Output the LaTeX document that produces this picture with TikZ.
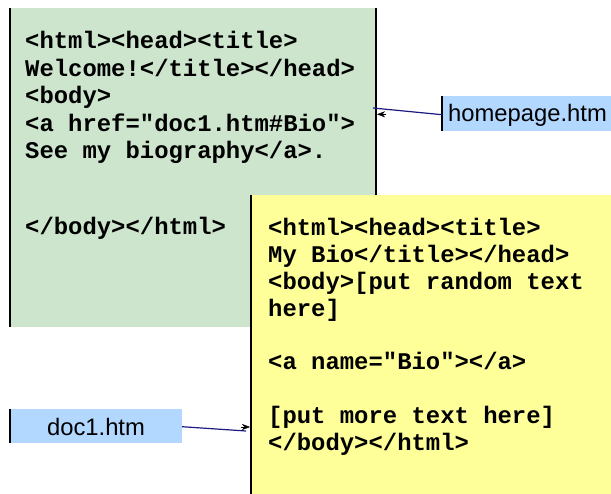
\documentclass[tikz,border=0pt]{standalone}
\usepackage{fontspec}
\setmainfont{Liberation Sans}
\setmonofont{Liberation Mono}
\usetikzlibrary{arrows.meta}
\definecolor{pagegreen}{HTML}{CCE5CC}
\definecolor{pageyellow}{HTML}{FFFF99}
\definecolor{labelblue}{HTML}{B3D8FF}
\definecolor{linknavy}{HTML}{1A1A80}
\tikzset{
  page/.style={draw=none, inner sep=0, outer sep=0, anchor=north west},
  edge/.style={black, line width=1.3pt},
  code/.style={inner sep=0, anchor=base west, yshift=-2.5pt, font=\ttfamily\bfseries\fontsize{23.9}{27.5}\selectfont},
  label/.style={inner sep=0, anchor=base, font=\fontsize{23.8}{27}\selectfont},
  link/.style={linknavy, line width=1.2pt},
  tip/.style={-{Stealth[length=8pt,width=6pt,inset=2.5pt]}, black, line width=0.4pt}
}
\begin{document}
\begin{tikzpicture}[x=1pt,y=-1pt]
\useasboundingbox (0,0) rectangle (611,494);
% green page
\node[page, fill=pagegreen, minimum width=366pt, minimum height=319pt] (green) at (10,8) {};
\draw[edge] (green.north west) -- (green.south west);
\draw[edge] (green.north east) -- (green.south east);
\node[code] (g1) at (25,46) {<html><head><title>};
\node[code] (g2) at (25,74) {Welcome!</title></head>};
\node[code] (g3) at (25,101.5) {<body>};
\node[code] (g4) at (25,129) {<a href="doc1.htm\#Bio">};
\node[code] (g5) at (25,156) {See my biography</a>.};
\node[code] (g6) at (25,232.5) {</body></html>};
% yellow page
\node[page, fill=pageyellow, minimum width=362pt, minimum height=302pt] (yellow) at (251,195) {};
\draw[edge] (yellow.north west) -- (yellow.south west);
\node[code] (y1) at (268,233) {<html><head><title>};
\node[code] (y2) at (268,260.5) {My Bio</title></head>};
\node[code] (y3) at (268,287.5) {<body>[put random text};
\node[code] (y4) at (268,314.5) {here]};
\node[code] (y5) at (268,367) {<a name="Bio"></a>};
\node[code] (y6) at (268,421) {[put more text here]};
\node[code] (y7) at (268,448) {</body></html>};
% labels
\node[page, fill=labelblue, minimum width=171pt, minimum height=35pt] (hp) at (442,96) {};
\draw[edge] (hp.north west) -- (hp.south west);
\node[label] (hptext) at (527.5,122) {homepage.htm};
\node[page, fill=labelblue, minimum width=172pt, minimum height=34pt] (doc) at (10,409) {};
\draw[edge] (doc.north west) -- (doc.south west);
\node[label] (doctext) at (96,436) {doc1.htm};
% connectors
\coordinate (a1end) at (373,108);
\coordinate (a1tip) at (377,114.3);
\coordinate (a1back) at (386,114.3);
\draw[link] (hp.west |- 0,114.7) -- (a1end);
\draw[tip] (a1back) -- (a1tip);
\coordinate (a2end) at (246,431);
\coordinate (a2tip) at (250,427);
\coordinate (a2back) at (241,427);
\draw[link] (doc.east |- 0,426.7) -- (a2end);
\draw[tip] (a2back) -- (a2tip);
\end{tikzpicture}
\end{document}
